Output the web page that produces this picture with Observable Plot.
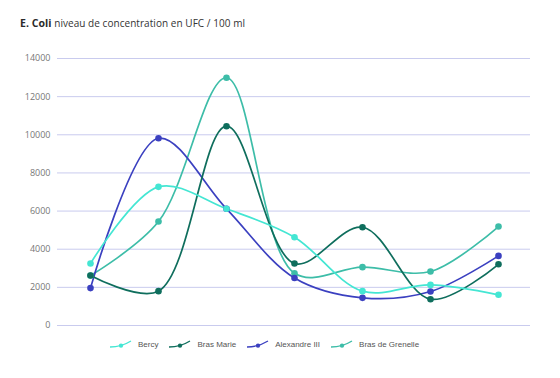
<!DOCTYPE html>
<html>
<head>
<meta charset="utf-8">
<script src="https://cdn.jsdelivr.net/npm/d3@7"></script>
<script src="https://cdn.jsdelivr.net/npm/@observablehq/plot@0.6"></script>
<style>
  html, body { margin: 0; padding: 0; background: #fff; width: 560px; height: 378px; overflow: hidden; }
  #title { height: 40px; box-sizing: border-box; padding: 16px 0 0 20px; font-family: "Open Sans", sans-serif; font-size: 10px; color: #333; letter-spacing: 0.05px; }
  #title b { font-weight: 700; color: #2a2a2a; font-size: 10.5px; }
  #legend { display: flex; justify-content: flex-start; gap: 11px; font-family: "Liberation Sans", Arial, sans-serif; font-size: 8px; color: #555; height: 16px; align-items: center; padding-left: 110px; }
  #legend span.item { display: inline-flex; align-items: center; gap: 6px; }
</style>
</head>
<body>
<div id="title"><b>E. Coli</b> niveau de concentration en UFC / 100 ml</div>
<div id="chart"></div>
<div id="legend"></div>
<script>
const categories = ["P1", "P2", "P3", "P4", "P5", "P6", "P7"];
const seriesNames = ["Bercy", "Bras Marie", "Alexandre III", "Bras de Grenelle"];
const seriesColors = ["#44e6d3", "#0f6e5d", "#3b40c0", "#3dbda8"];
const bercy = [3250, 7270, 6120, 4630, 1800, 2130, 1610];
const brasMarie = [2620, 1800, 10450, 3250, 5150, 1380, 3210];
const alexandreIII = [1960, 9820, 6120, 2490, 1450, 1780, 3650];
const brasDeGrenelle = [2620, 5450, 12990, 2740, 3060, 2830, 5190];
const yTicks = [0, 2000, 4000, 6000, 8000, 10000, 12000, 14000];

const allSeries = [bercy, brasMarie, alexandreIII, brasDeGrenelle];
const data = [];
// draw the first series on top: push in reverse order
for (let si = allSeries.length - 1; si >= 0; si--) {
  allSeries[si].forEach((v, i) => data.push({ series: seriesNames[si], cat: categories[i], value: v }));
}

const chart = Plot.plot({
  width: 560,
  height: 296,
  marginLeft: 57,
  marginRight: 30,
  marginTop: 18,
  marginBottom: 11,
  style: { fontFamily: "Open Sans, sans-serif", fontSize: "9px", color: "#777", background: "#fff" },
  x: { type: "point", domain: categories, padding: 0.45, axis: null },
  y: { domain: [0, 14000], ticks: yTicks, tickFormat: d => String(d), label: null, tickSize: 0, tickPadding: 7, axis: null },
  color: { domain: seriesNames, range: seriesColors },
  marks: [
    Plot.gridY(yTicks, { stroke: "#c9cbee", strokeOpacity: 1, strokeWidth: 1 }),
    Plot.axisY(yTicks, { tickSize: 0, tickPadding: 7, label: null, tickFormat: d => String(d), fill: "#777", fontSize: 9 }),
    Plot.line(data, { x: "cat", y: "value", z: "series", stroke: "series", curve: "catmull-rom", strokeWidth: 1.7 }),
    Plot.dot(data, { x: "cat", y: "value", fill: "series", r: 3.3 })
  ]
});
document.getElementById("chart").appendChild(chart);

const legend = document.getElementById("legend");
seriesNames.forEach((name, i) => {
  const item = document.createElement("span");
  item.className = "item";
  const c = seriesColors[i];
  item.innerHTML = `<svg width="22" height="10" viewBox="0 0 22 10"><path d="M0,8 C7,8 13,7 21,2" fill="none" stroke="${c}" stroke-width="1.3"/><circle cx="11" cy="6.6" r="2.2" fill="${c}"/></svg><span>${name}</span>`;
  legend.appendChild(item);
});
</script>
</body>
</html>
